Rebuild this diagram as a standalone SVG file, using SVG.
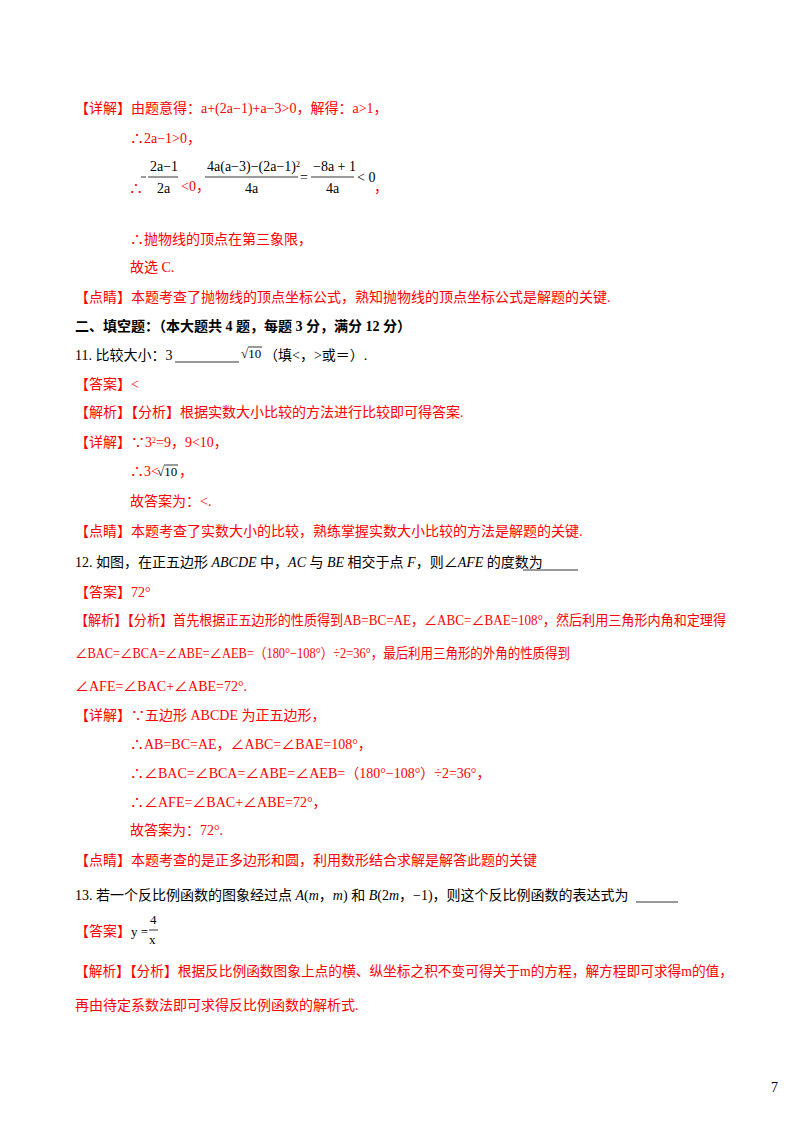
<svg xmlns="http://www.w3.org/2000/svg" width="800" height="1132" viewBox="0 0 800 1132">
<style>
text{font-family:"Liberation Serif","Noto Sans CJK SC",serif;font-size:14px}
.r{fill:#f00}
.k{fill:#000}
.b{font-weight:bold}
.m{font-family:"Liberation Serif",serif;font-size:13px}
.i{font-style:italic}
.sup{font-size:8px;baseline-shift:super}
line{stroke-width:0.8}
</style>
<rect width="800" height="1132" fill="#fff"/>
<text class="r" x="75" y="113">【详解】由题意得：a+(2a−1)+a−3&gt;0，解得：a&gt;1，</text>
<text class="r" x="130" y="143">∴2a−1&gt;0，</text>
<g class="m">
<text class="r" x="129" y="193">∴</text>
<line x1="141" y1="177" x2="146" y2="177" stroke="#000"/>
<text class="k" x="150" y="171">2a−1</text>
<line x1="148" y1="177" x2="178" y2="177" stroke="#000"/>
<text class="k" x="157" y="193">2a</text>
<text class="r" x="181" y="191">&lt;0，</text>
<text class="k" x="207" y="171">4a(a−3)−(2a−1)<tspan class="sup" font-size="9">2</tspan></text>
<line x1="205" y1="177" x2="298" y2="177" stroke="#000"/>
<text class="k" x="245" y="193">4a</text>
<text class="k" x="300" y="182">=</text>
<text class="k" x="313" y="171">−8a + 1</text>
<line x1="311" y1="177" x2="354" y2="177" stroke="#000"/>
<text class="k" x="326" y="193">4a</text>
<text class="k" x="357" y="182">&lt; 0</text>
<text class="r" x="374" y="192">，</text>
</g>
<text class="r" x="130" y="244">∴抛物线的顶点在第三象限，</text>
<text class="r" x="130" y="272">故选 C.</text>
<text class="r" x="75" y="302">【点睛】本题考查了抛物线的顶点坐标公式，熟知抛物线的顶点坐标公式是解题的关键.</text>
<text class="k b" x="75" y="331">二、填空题：（本大题共 4 题，每题 3 分，满分 12 分）</text>
<text class="k" x="75" y="360">11. 比较大小：3</text>
<line x1="175" y1="362" x2="239" y2="362" stroke="#000"/>
<text class="k m" x="241" y="358">√10</text>
<line x1="248" y1="347" x2="262" y2="347" stroke="#000"/>
<text class="k" x="264" y="360">（填&lt;，&gt;或＝）.</text>
<text class="r" x="75" y="389">【答案】&lt;</text>
<text class="r" x="75" y="417">【解析】【分析】根据实数大小比较的方法进行比较即可得答案.</text>
<text class="r" x="75" y="447">【详解】∵3<tspan class="sup">2</tspan>=9，9&lt;10，</text>
<text class="r" x="130" y="476">∴3&lt;</text>
<text class="k m" x="157" y="476">√10</text>
<line x1="164" y1="465" x2="178" y2="465" stroke="#000"/>
<text class="r" x="179" y="476">，</text>
<text class="r" x="130" y="506">故答案为：&lt;.</text>
<text class="r" x="75" y="536">【点睛】本题考查了实数大小的比较，熟练掌握实数大小比较的方法是解题的关键.</text>
<text class="k" x="75" y="567">12. 如图，在正五边形 <tspan class="i">ABCDE</tspan> 中，<tspan class="i">AC</tspan> 与 <tspan class="i">BE</tspan> 相交于点 <tspan class="i">F</tspan>，则∠<tspan class="i">AFE</tspan> 的度数为</text>
<line x1="523" y1="570" x2="578" y2="570" stroke="#000"/>
<text class="r" x="75" y="597">【答案】72°</text>
<text class="r" x="75" y="625" textLength="651" lengthAdjust="spacingAndGlyphs">【解析】【分析】首先根据正五边形的性质得到AB=BC=AE，∠ABC=∠BAE=108°，然后利用三角形内角和定理得</text>
<text class="r" x="75" y="658" textLength="495" lengthAdjust="spacingAndGlyphs">∠BAC=∠BCA=∠ABE=∠AEB=（180°−108°）÷2=36°，最后利用三角形的外角的性质得到</text>
<text class="r" x="75" y="691">∠AFE=∠BAC+∠ABE=72°.</text>
<text class="r" x="75" y="720">【详解】∵五边形 ABCDE 为正五边形，</text>
<text class="r" x="130" y="749">∴AB=BC=AE，∠ABC=∠BAE=108°，</text>
<text class="r" x="130" y="778">∴∠BAC=∠BCA=∠ABE=∠AEB=（180°−108°）÷2=36°，</text>
<text class="r" x="130" y="807">∴∠AFE=∠BAC+∠ABE=72°，</text>
<text class="r" x="130" y="835">故答案为：72°.</text>
<text class="r" x="75" y="865">【点睛】本题考查的是正多边形和圆，利用数形结合求解是解答此题的关键</text>
<text class="k" x="75" y="900">13. 若一个反比例函数的图象经过点 <tspan class="i">A</tspan>(<tspan class="i">m</tspan>，<tspan class="i">m</tspan>) 和 <tspan class="i">B</tspan>(2<tspan class="i">m</tspan>，−1)，则这个反比例函数的表达式为</text>
<line x1="636" y1="902" x2="678" y2="902" stroke="#000"/>
<text class="r" x="75" y="936">【答案】</text>
<text class="k m" x="131" y="936">y =</text>
<text class="k m" x="150" y="924">4</text>
<line x1="149" y1="930" x2="158" y2="930" stroke="#000"/>
<text class="k m" x="149" y="944">x</text>
<text class="r" x="75" y="976" textLength="658" lengthAdjust="spacingAndGlyphs">【解析】【分析】根据反比例函数图象上点的横、纵坐标之积不变可得关于m的方程，解方程即可求得m的值，</text>
<text class="r" x="75" y="1010">再由待定系数法即可求得反比例函数的解析式.</text>
<text class="k" x="771" y="1092" font-family="Liberation Sans,sans-serif" font-size="12">7</text>
</svg>
